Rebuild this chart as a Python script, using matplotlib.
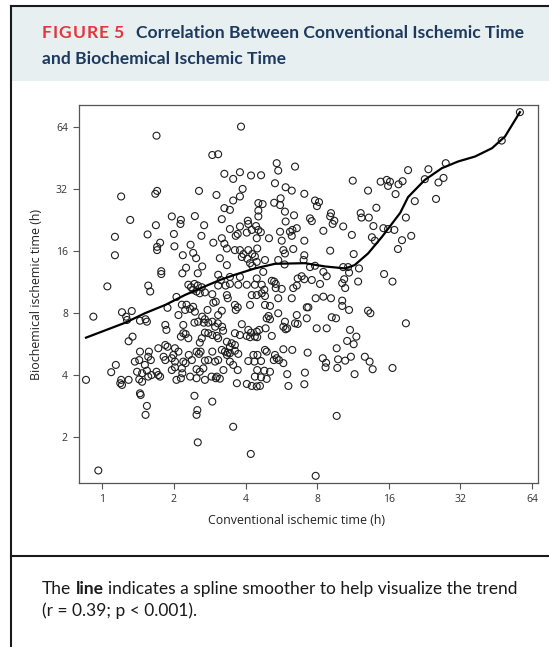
import matplotlib
matplotlib.use('Agg')
import matplotlib.pyplot as plt
from matplotlib.patches import Rectangle
from matplotlib.lines import Line2D
from matplotlib.ticker import NullLocator, FixedLocator, FixedFormatter

W, H = 549, 647

# (conventional h, biochemical h), grouped by region
pts_top = [(1.69, 58.2), (3.83, 64.4), (57.0, 75.7), (47.8, 55.1)]

pts_upper_left = [
    (2.90, 46.9), (3.07, 47.3), (1.67, 30.4), (1.70, 31.4), (2.55, 31.4), (3.02, 30.0),
    (1.31, 22.7), (1.96, 23.6), (2.14, 22.7), (2.13, 21.7), (2.45, 23.7), (2.68, 21.4),
    (1.68, 21.4), (1.55, 19.3), (2.00, 19.4), (2.61, 19.0), (2.93, 17.6), (1.75, 17.6),
    (1.70, 16.8), (1.70, 16.2), (2.01, 16.9), (2.35, 17.2), (2.41, 15.7), (2.18, 15.3),
    (2.48, 14.8), (2.63, 13.5), (2.25, 13.3), (1.77, 12.8), (1.77, 12.4), (2.17, 12.5),
    (2.52, 12.5),
]

pts_upper_mid = [
    (5.41, 42.8), (6.46, 41.2), (3.26, 38.0), (3.55, 35.9), (3.79, 38.7), (4.22, 37.3),
    (4.65, 37.4), (5.49, 39.4), (5.32, 34.2), (5.90, 32.7), (6.26, 31.5), (7.07, 30.4),
    (3.89, 32.1), (3.79, 29.5), (3.55, 28.2), (4.53, 27.4), (4.72, 27.1), (5.28, 27.5),
    (5.62, 28.9), (5.59, 26.8), (4.53, 25.2), (3.26, 25.9), (3.44, 25.4), (5.86, 24.9),
    (3.18, 22.9), (4.53, 23.6), (5.90, 22.3), (6.40, 23.9), (4.09, 22.5), (4.11, 21.7),
    (4.43, 21.2), (3.79, 21.1), (3.44, 20.5), (4.25, 20.3), (4.53, 20.3), (4.64, 19.8),
    (3.71, 19.4), (3.64, 19.0), (4.05, 19.7), (5.59, 19.9), (6.15, 19.9), (6.30, 20.3),
    (6.57, 20.7), (6.26, 19.0), (7.07, 18.0), (5.02, 18.5), (4.46, 18.5), (5.68, 18.0),
    (3.18, 18.5), (3.26, 17.4), (3.34, 16.5), (3.61, 16.2), (3.79, 16.2), (3.92, 15.5),
    (4.11, 16.2), (4.27, 15.5), (3.86, 15.0), (4.07, 14.7), (4.38, 15.1), (4.48, 16.5),
    (4.83, 14.5), (5.77, 16.2), (5.86, 15.6), (6.35, 16.4), (7.07, 15.3), (5.49, 14.5),
    (5.84, 13.8), (7.02, 14.5), (3.12, 14.8), (3.34, 13.7), (4.18, 14.0), (4.27, 13.6),
    (4.46, 14.2), (4.75, 12.7), (3.07, 12.3), (3.15, 11.6), (3.44, 12.0), (3.79, 12.0),
    (4.46, 11.8), (5.16, 11.5), (5.28, 11.4), (6.63, 11.8), (6.89, 12.1), (7.07, 11.7),
]

pts_upper_right = [
    (11.3, 35.2), (14.8, 34.8), (15.7, 35.5), (16.2, 34.8), (15.9, 33.2), (17.6, 33.8),
    (13.1, 31.5), (17.1, 30.3), (7.84, 28.2), (8.15, 27.7), (7.99, 26.5), (14.2, 26.0),
    (12.2, 24.5), (12.3, 23.3), (9.15, 24.5), (9.08, 23.6), (7.47, 23.1), (7.60, 22.4),
    (9.45, 22.5), (9.30, 21.7), (13.2, 23.3), (8.50, 20.1), (10.3, 21.1), (13.8, 21.2),
    (15.2, 20.7), (15.9, 20.5), (16.9, 20.3), (11.2, 19.2), (13.6, 18.7), (14.0, 18.0),
    (9.08, 16.1), (11.4, 15.5), (17.5, 16.4), (7.47, 13.4), (7.84, 13.6), (8.50, 12.7),
    (8.78, 12.1), (10.3, 13.4), (10.8, 13.4), (12.0, 13.2), (10.9, 12.6), (15.3, 12.4),
    (7.60, 11.6), (10.4, 11.7), (11.9, 11.4), (16.6, 11.4),
    (27.8, 42.8), (23.5, 40.0), (19.3, 39.6), (22.7, 35.8), (25.9, 34.5), (27.2, 36.3),
    (18.3, 35.0), (25.3, 28.7), (20.6, 28.0), (18.9, 23.3), (19.9, 19.0), (18.2, 18.1),
]

pts_lower_left = [
    (1.56, 10.9), (1.59, 10.2), (2.30, 11.0), (2.36, 10.7), (2.44, 11.1), (2.52, 10.9),
    (2.62, 10.7), (2.41, 10.4), (2.49, 10.2), (2.57, 10.0), (2.70, 10.1), (2.90, 9.9),
    (2.05, 9.6), (1.33, 8.2), (1.88, 8.5), (2.16, 8.8), (2.26, 8.8), (2.23, 8.3),
    (2.34, 8.4), (2.41, 8.6), (2.09, 7.84), (2.45, 8.14), (2.63, 7.70), (2.70, 7.48),
    (2.93, 9.0), (3.00, 9.1), (2.77, 8.3), (1.44, 7.36), (1.54, 7.28), (1.52, 7.48),
    (1.27, 7.42), (1.84, 7.02), (1.86, 6.64), (2.19, 7.02), (2.44, 7.20), (2.53, 7.28),
    (2.67, 7.20), (2.79, 7.20), (2.90, 7.28), (2.98, 6.88), (2.24, 6.34), (2.30, 6.05),
    (2.19, 6.40), (2.14, 6.16), (2.79, 6.40), (2.70, 6.44), (2.90, 6.27), (2.62, 6.05),
    (2.57, 5.76), (1.34, 6.16), (1.29, 5.85), (1.44, 5.21), (1.43, 4.74), (1.57, 5.21),
    (1.56, 4.92), (1.60, 4.74), (1.72, 5.41), (1.84, 5.61), (1.88, 5.50), (2.02, 5.41),
    (2.09, 5.21), (1.99, 5.02), (2.49, 5.21), (2.55, 5.08), (2.59, 5.21), (2.31, 5.02),
    (2.90, 5.21), (1.37, 4.66), (1.51, 4.49), (1.81, 4.92), (1.84, 4.74), (1.96, 4.84),
    (2.02, 4.66), (2.19, 4.66), (2.24, 4.58), (2.38, 4.74), (2.70, 4.71), (2.79, 4.74),
    (2.98, 4.66), (1.40, 4.16), (1.47, 4.09), (1.54, 4.21), (1.61, 4.01), (1.56, 3.94),
    (1.69, 4.16), (1.72, 4.01), (1.75, 3.94), (1.96, 4.24), (2.02, 4.37), (2.16, 4.32),
    (2.17, 4.09), (2.49, 4.28), (2.57, 4.16), (2.66, 4.32), (2.34, 3.94), (2.49, 3.87),
    (2.88, 3.94), (3.00, 3.87), (1.29, 3.80), (1.43, 3.82), (1.47, 3.72), (2.05, 3.80),
    (2.14, 3.87), (2.70, 3.80), (1.44, 3.27), (1.45, 3.21), (1.54, 2.84), (1.52, 2.57),
    (2.44, 3.18), (2.90, 2.98), (2.51, 2.71), (2.49, 2.57),
    (0.854, 3.80), (0.917, 7.70), (1.09, 4.14), (1.14, 4.49), (1.20, 3.80), (1.21, 3.59),
    (1.19, 3.66), (1.21, 8.09), (1.26, 7.70), (0.962, 1.38), (1.05, 10.8), (1.13, 18.8),
    (1.13, 15.3), (1.20, 29.5),
]

pts_lower_mid = [
    (3.07, 10.9), (3.30, 10.9), (3.44, 11.1), (3.73, 11.0), (4.05, 11.0), (4.38, 11.0),
    (4.68, 11.0), (5.36, 11.1), (5.36, 10.6), (5.68, 10.5), (6.35, 10.6), (6.57, 10.9),
    (3.34, 9.8), (3.37, 9.46), (4.25, 9.8), (4.46, 9.8), (4.68, 10.0), (4.83, 9.7),
    (4.80, 10.4), (3.61, 8.78), (3.71, 8.55), (3.64, 8.30), (4.18, 8.78), (4.83, 8.78),
    (5.07, 8.68), (5.49, 9.46), (6.26, 9.46), (7.24, 8.55), (3.07, 7.84), (3.18, 8.23),
    (5.49, 8.00), (4.91, 7.56), (5.07, 7.48), (5.00, 7.76), (5.86, 7.28), (5.77, 6.88),
    (6.57, 7.84), (6.46, 7.15), (6.63, 7.10), (7.24, 7.56), (3.06, 7.15), (3.19, 6.88),
    (3.22, 6.58), (3.86, 7.08), (4.11, 6.64), (4.22, 6.44), (4.46, 6.51), (4.57, 6.64),
    (4.38, 6.16), (4.48, 6.12), (4.86, 6.76), (5.90, 6.69), (5.99, 6.76), (3.61, 6.40),
    (3.79, 6.27), (4.05, 6.21), (4.18, 6.12), (5.16, 6.21), (3.03, 6.21), (3.07, 6.05),
    (3.34, 5.82), (3.50, 5.72), (3.61, 5.61), (3.44, 5.50), (3.18, 5.31), (3.28, 5.21),
    (3.37, 5.15), (3.34, 5.02), (3.44, 5.12), (3.61, 5.26), (3.73, 5.08), (4.83, 5.31),
    (4.91, 5.21), (5.32, 5.02), (5.41, 4.84), (5.53, 4.74), (5.26, 4.74), (5.77, 5.35),
    (6.29, 5.31), (7.30, 5.15), (4.11, 4.69), (4.36, 4.66), (4.65, 4.69), (4.32, 5.02),
    (4.49, 5.02), (3.07, 4.74), (3.44, 4.66), (3.55, 4.49), (5.77, 4.58), (3.23, 4.24),
    (3.71, 4.24), (4.48, 4.24), (4.80, 4.21), (5.07, 4.16), (4.38, 3.94), (4.65, 3.91),
    (4.91, 3.84), (5.99, 4.05), (7.11, 4.12), (3.03, 3.94), (3.12, 3.85), (3.68, 3.66),
    (4.05, 3.63), (4.25, 3.55), (4.46, 3.53), (4.60, 3.55), (6.06, 3.55), (7.07, 3.62),
    (3.55, 2.25), (2.52, 1.89), (4.21, 1.66), (7.89, 1.30), (9.67, 2.54),
]

pts_lower_right = [
    (8.23, 11.1), (10.2, 11.2), (10.5, 10.6), (7.35, 8.55), (7.89, 9.46), (8.50, 9.63),
    (9.15, 9.46), (10.2, 9.21), (10.2, 8.68), (10.9, 8.30), (9.22, 7.65), (9.61, 7.56),
    (13.1, 8.23), (13.4, 8.00), (7.97, 6.76), (8.78, 6.76), (11.0, 6.64), (11.7, 6.16),
    (10.7, 5.87), (11.4, 5.66), (9.67, 5.41), (8.45, 4.84), (8.73, 4.60), (8.68, 4.37),
    (9.80, 4.78), (10.5, 4.71), (11.1, 4.92), (9.73, 4.34), (12.7, 4.92), (13.3, 4.66),
    (13.7, 4.28), (11.5, 4.05), (16.6, 4.34), (18.9, 7.15),
]

# spline smoother, traced
spline_x = [0.854, 1.25, 1.51, 1.84, 2.23, 2.70, 3.12, 3.61, 4.38, 5.32, 7.11, 8.63,
            10.5, 11.5, 13.1, 15.0, 17.9, 19.3, 22.7, 26.8, 31.3, 36.9, 43.5, 49.3, 57.0]
spline_y = [6.09, 7.20, 8.00, 8.78, 9.82, 10.8, 11.6, 12.3, 13.2, 13.9, 14.0, 13.5,
            13.2, 13.7, 15.6, 18.8, 24.6, 29.3, 35.5, 40.5, 43.6, 46.1, 50.6, 57.6, 75.7]

x_ticks = [1, 2, 4, 8, 16, 32, 64]
y_ticks = [2, 4, 8, 16, 32, 64]

all_pts = (pts_top + pts_upper_left + pts_upper_mid + pts_upper_right
           + pts_lower_left + pts_lower_mid + pts_lower_right)
conv_h = [p[0] for p in all_pts]
bio_h = [p[1] for p in all_pts]


def fx(px): return px / W
def fy(py): return 1 - py / H


fig = plt.figure(figsize=(W / 100, H / 100), dpi=100, facecolor='white')

# header band + frame lines
fig.add_artist(Rectangle((fx(11), fy(81)), 1, (81 - 7) / H, transform=fig.transFigure,
                         facecolor='#e7eff0', edgecolor='none', zorder=0))
for xs, ys in [([10.5, 10.5], [6, H]), ([10.5, W], [6, 6]), ([10.5, W], [556, 556])]:
    fig.add_artist(Line2D([fx(v) for v in xs], [fy(v) for v in ys],
                          color='#1a1a1a', lw=1.5, transform=fig.transFigure))

rend = fig.canvas.get_renderer()


def put(px, py, s, **kw):
    t = fig.text(fx(px), fy(py), s, va='center', ha='left', **kw)
    return t.get_window_extent(rend).x1


def space_w(**kw):
    a = fig.text(0, 0, 'a a', **kw); b = fig.text(0, 0, 'aa', **kw)
    w = a.get_window_extent(rend).width - b.get_window_extent(rend).width
    a.remove(); b.remove()
    return w


# title
red = '#e2363c'; navy = '#1d3a5e'
tkw = dict(family='Lato', fontsize=12.6, fontweight='bold')
x = 42
for ch in 'FIGURE 5':
    if ch == ' ':
        x += 3.5
        continue
    x = put(x, 33, ch, color=red, **tkw) + 0.9
put(136, 33, 'Correlation Between Conventional Ischemic Time', color=navy, **tkw)
put(42, 59.5, 'and Biochemical Ischemic Time', color=navy, **tkw)

# caption
ckw = dict(family='Lato', fontsize=12.5, color='#1a1a1a')
sw = space_w(**ckw)
x = put(42, 589, 'The', **ckw) + sw
x = put(x, 589, 'line', fontweight='bold', **ckw) + sw
put(x, 589, 'indicates a spline smoother to help visualize the trend', **ckw)
put(42, 611, '(r = 0.39; p < 0.001).', **ckw)

# scatter plot
ax = fig.add_axes([fx(79), fy(482.7), (538.3 - 79) / W, (482.7 - 105) / H])
ax.set_xscale('log', base=2)
ax.set_yscale('log', base=2)
ax.scatter(conv_h, bio_h, s=25, facecolors='none', edgecolors='#1e1e1e', linewidths=0.8, zorder=2)
ax.plot(spline_x, spline_y, color='black', lw=1.6, zorder=3)
ax.set_xlim(0.798, 68.1)
ax.set_ylim(1.204, 82)

ax.xaxis.set_major_locator(FixedLocator(x_ticks))
ax.xaxis.set_major_formatter(FixedFormatter([str(t) for t in x_ticks]))
ax.yaxis.set_major_locator(FixedLocator(y_ticks))
ax.yaxis.set_major_formatter(FixedFormatter([str(t) for t in y_ticks]))
ax.xaxis.set_minor_locator(NullLocator())
ax.yaxis.set_minor_locator(NullLocator())
ax.tick_params(direction='out', length=4, width=0.8, color='#555555', labelsize=7.5,
               labelcolor='#333333', pad=4)
for lab in ax.get_xticklabels() + ax.get_yticklabels():
    lab.set_family('Open Sans')
for sp in ax.spines.values():
    sp.set_color('#555555'); sp.set_linewidth(0.9)

fig.text(fx(296), fy(521), 'Conventional ischemic time (h)', ha='center', va='center',
         family='Open Sans', fontsize=8.9, color='#222222')
fig.text(fx(37), fy(294), 'Biochemical ischemic time (h)', ha='center', va='center',
         rotation=90, family='Open Sans', fontsize=8.9, color='#222222')

fig.savefig('out.png', dpi=100, facecolor='white')
